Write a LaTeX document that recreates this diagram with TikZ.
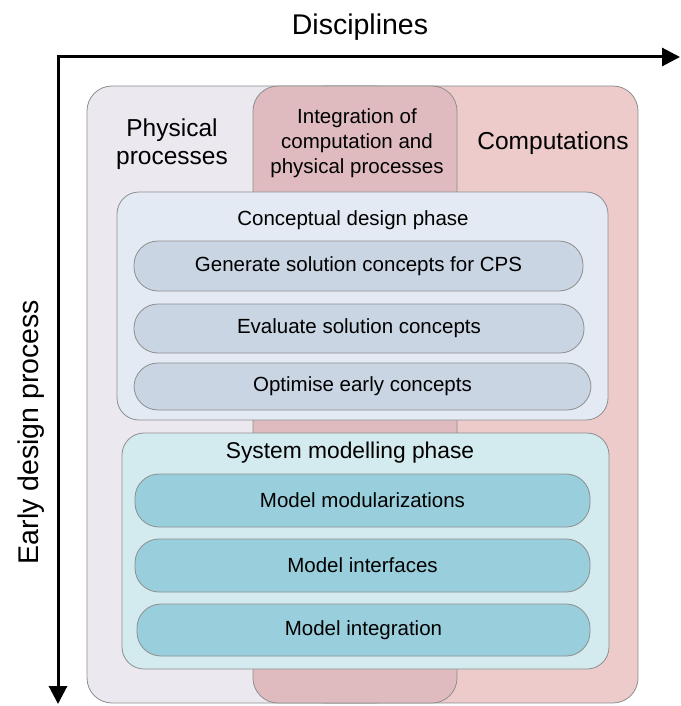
\documentclass[tikz,border=0pt]{standalone}
\usepackage{fontspec}
\setmainfont{Liberation Sans}
\usetikzlibrary{arrows.meta}
\definecolor{physfill}{HTML}{ECE8F0}
\definecolor{intfill}{HTML}{DFBBBF}
\definecolor{compfill}{HTML}{EDCBCA}
\definecolor{concfill}{HTML}{E3EAF4}
\definecolor{concpill}{HTML}{C9D5E3}
\definecolor{sysfill}{HTML}{D3EAEF}
\definecolor{syspill}{HTML}{99CFDC}
\definecolor{edge}{HTML}{8E8E8E}
\begin{document}
\begin{tikzpicture}[x=1pt,y=-1pt,
  col/.style={draw=edge, line width=0.8pt, rounded corners=25pt, inner sep=0pt},
  phase/.style={draw=edge, line width=0.8pt, rounded corners=22pt, inner sep=0pt},
  pill/.style={draw=edge, line width=0.8pt, rounded corners=24pt, inner sep=0pt, font=\fontsize{20.5}{24}\selectfont},
  axis/.style={line width=3pt, {Triangle[length=18pt,width=18pt]}-{Triangle[length=18pt,width=18pt]}, line join=miter}
]
\useasboundingbox (0,0) rectangle (680,706);

% columns
\node[col, fill=physfill, minimum width=313pt, minimum height=617pt] (phys) at (243.5,394.5) {};
\node[col, fill=compfill, minimum width=338pt, minimum height=617pt] (comp) at (469,394.5) {};
\node[col, fill=intfill, minimum width=204pt, minimum height=617pt] (integ) at (355,394.5) {};

\node[align=center, font=\fontsize{24.5}{28}\selectfont] (physt) at (172,144) {Physical\\processes};
\node[align=center, font=\fontsize{20.5}{25}\selectfont] (integt) at (357,143) {Integration of\\computation and\\physical processes};
\node[font=\fontsize{24.5}{28}\selectfont] (compt) at (553,143) {Computations};

% conceptual phase
\node[phase, fill=concfill, minimum width=491pt, minimum height=228pt] (conc) at (362.5,306) {};
\node[font=\fontsize{20.5}{24}\selectfont] (conct) at (353,220) {Conceptual design phase};
\node[pill, fill=concpill, minimum width=449pt, minimum height=50pt] (gen) at (358.5,266) {Generate solution concepts for CPS};
\node[pill, fill=concpill, minimum width=450pt, minimum height=49pt] (eval) at (359,328.5) {Evaluate solution concepts};
\node[pill, fill=concpill, minimum width=457pt, minimum height=47pt] (opt) at (362.5,386.5) {Optimise early concepts};

% system modelling phase
\node[phase, fill=sysfill, minimum width=487pt, minimum height=236pt] (sys) at (365.5,551) {};
\node[font=\fontsize{22.8}{26}\selectfont] (syst) at (350,453) {System modelling phase};
\node[pill, fill=syspill, minimum width=455pt, minimum height=53pt] (mod) at (362.5,500.5) {Model modularizations};
\node[pill, fill=syspill, minimum width=455pt, minimum height=53pt] (intf) at (362.5,565.5) {Model interfaces};
\node[pill, fill=syspill, minimum width=453pt, minimum height=52pt] (mint) at (363.5,630) {Model integration};

% axes
\coordinate (O) at (58,57);
\coordinate (xend) at (680,57);
\coordinate (yend) at (58,704);
\draw[axis] (xend) -- (O) -- (yend);
\node[font=\fontsize{28.5}{32}\selectfont] (disc) at (360,27) {Disciplines};
\node[font=\fontsize{28.5}{32}\selectfont, rotate=90] (early) at (31,432) {Early design process};
\end{tikzpicture}
\end{document}
